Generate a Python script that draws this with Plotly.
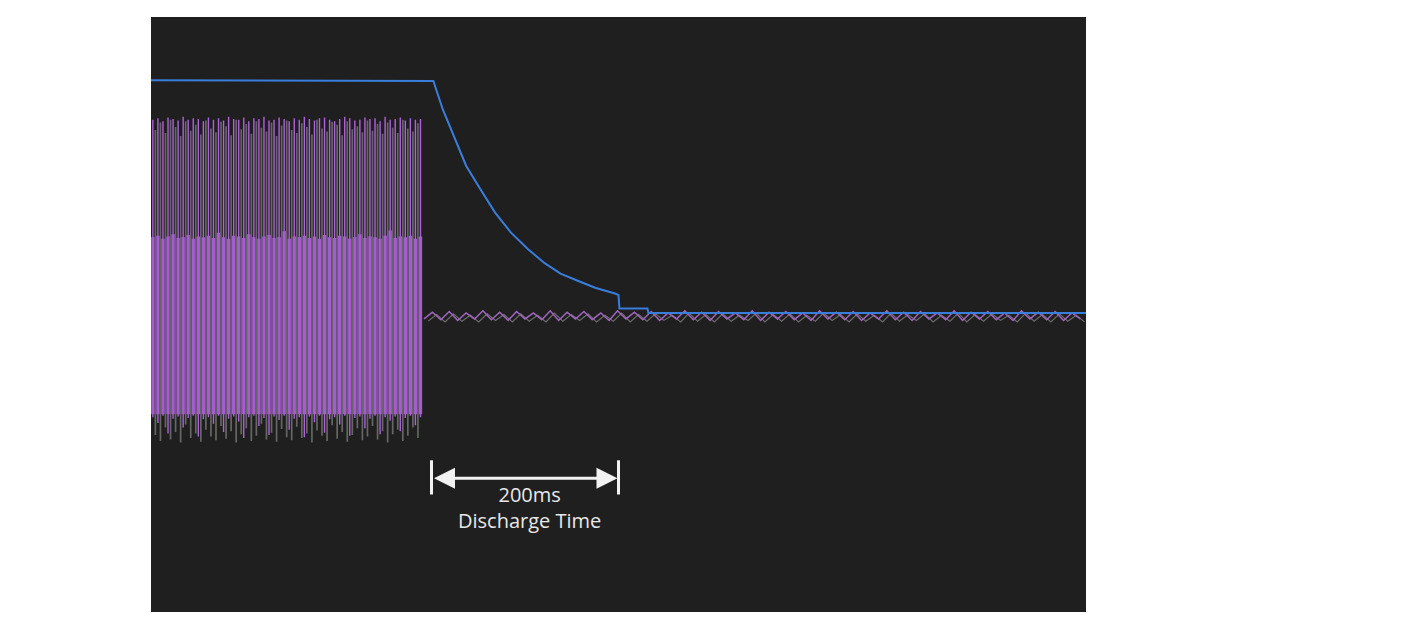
import plotly.graph_objects as go

# ---------------- data (time in ms, amplitude in screen divisions) ----------------
ac_start_ms = 2.0
ac_step_ms = 5.4          # oscilloscope column spacing of the dense AC section

ch2_hi = [2.62, 2.64, 2.60, 2.65, 2.63, 2.61, 2.66, 2.62, 2.64, 2.63, 2.60, 2.65, 2.62, 2.64,
          2.61, 2.66, 2.63, 2.62, 2.65, 2.60, 2.64, 2.63, 2.66, 2.61, 2.62, 2.65, 2.63, 2.60,
          2.64, 2.62, 2.66, 2.63, 2.61, 2.64, 2.65, 2.62, 2.60, 2.63, 2.66, 2.64, 2.61, 2.62,
          2.65, 2.63, 2.64, 2.60, 2.66, 2.62, 2.63, 2.65, 2.61, 2.64, 2.62, 2.63]
ch2_lo = [-1.38, -1.46, -1.36, -1.60, -1.40, -1.37, -1.52, -1.39, -1.36, -1.64, -1.41, -1.38,
          -1.47, -1.36, -1.58, -1.40, -1.37, -1.44, -1.66, -1.38, -1.36, -1.50, -1.39, -1.62,
          -1.37, -1.42, -1.36, -1.55, -1.40, -1.38, -1.65, -1.37, -1.45, -1.36, -1.59, -1.41,
          -1.38, -1.48, -1.36, -1.63, -1.39, -1.37, -1.53, -1.40, -1.36, -1.61, -1.38, -1.43,
          -1.37, -1.57, -1.39, -1.36, -1.49, -1.38]
ch2_band_hi = [1.04, 1.06, 1.02, 1.05, 1.08, 1.03, 1.04, 1.07, 1.02, 1.05, 1.04, 1.06, 1.03,
               1.10, 1.04, 1.02, 1.06, 1.05, 1.03, 1.08, 1.04, 1.02, 1.05, 1.07, 1.03, 1.04,
               1.12, 1.02, 1.05, 1.04, 1.06, 1.03, 1.05, 1.02, 1.07, 1.04, 1.03, 1.06, 1.05,
               1.02, 1.04, 1.08, 1.03, 1.05, 1.04, 1.02, 1.06, 1.13, 1.03, 1.05, 1.04, 1.06,
               1.02, 1.05]
ch2_band_lo = -1.34

ch1_hi = [2.48, 2.58, 2.44, 2.62, 2.52, 2.40, 2.60, 2.47, 2.55, 2.42, 2.61, 2.50, 2.45, 2.59,
          2.53, 2.41, 2.62, 2.49, 2.56, 2.43, 2.60, 2.51, 2.46, 2.58, 2.40, 2.54, 2.61, 2.48,
          2.44, 2.57, 2.52, 2.42, 2.62, 2.50, 2.46, 2.59, 2.55, 2.41, 2.60, 2.49, 2.53, 2.45,
          2.61, 2.47, 2.56, 2.43, 2.58, 2.51, 2.44, 2.62, 2.50, 2.46, 2.57]
ch1_lo = [-1.62, -1.70, -1.52, -1.68, -1.58, -1.72, -1.48, -1.66, -1.60, -1.71, -1.55, -1.64,
          -1.69, -1.50, -1.67, -1.57, -1.72, -1.61, -1.53, -1.70, -1.63, -1.47, -1.68, -1.59,
          -1.71, -1.54, -1.65, -1.69, -1.51, -1.66, -1.60, -1.72, -1.56, -1.63, -1.70, -1.49,
          -1.67, -1.58, -1.71, -1.62, -1.53, -1.69, -1.64, -1.50, -1.68, -1.57, -1.72, -1.61,
          -1.55, -1.70, -1.63, -1.52, -1.66]

ripple_start_ms = 292.0
ripple_step_ms = 9.0
ripple_ch2 = [-0.06, 0.03, -0.07, 0.04, -0.08, 0.02, -0.06, 0.05, -0.07, 0.03, -0.08, 0.04,
              -0.06, 0.02, -0.07, 0.05, -0.08, 0.03, -0.06, 0.04, -0.07, 0.02, -0.08, 0.05,
              -0.06, 0.03, -0.07, 0.04, -0.08, 0.02, -0.06, 0.05, -0.07, 0.03, -0.08, 0.04,
              -0.06, 0.02, -0.07, 0.05, -0.08, 0.03, -0.06, 0.04, -0.07, 0.02, -0.08, 0.05,
              -0.06, 0.03, -0.07, 0.04, -0.08, 0.02, -0.06, 0.05, -0.07, 0.03, -0.08, 0.04,
              -0.06, 0.02, -0.07, 0.05, -0.08, 0.03, -0.06, 0.04, -0.07, 0.02, -0.08, 0.05,
              -0.06, 0.03, -0.07, 0.04, -0.08, 0.02, -0.06]
ripple_ch1 = [-0.09, 0.00, -0.10, 0.01, -0.09, -0.01, -0.10, 0.01, -0.08, 0.00, -0.10, 0.01,
              -0.09, -0.01, -0.10, 0.02, -0.09, 0.00, -0.08, 0.01, -0.10, -0.01, -0.09, 0.02,
              -0.10, 0.00, -0.09, 0.01, -0.08, -0.01, -0.10, 0.02, -0.09, 0.00, -0.10, 0.01,
              -0.09, -0.01, -0.08, 0.02, -0.10, 0.00, -0.09, 0.01, -0.10, -0.01, -0.09, 0.02,
              -0.08, 0.00, -0.10, 0.01, -0.09, -0.01, -0.10, 0.02, -0.09, 0.00, -0.08, 0.01,
              -0.10, -0.01, -0.09, 0.02, -0.10, 0.00, -0.09, 0.01, -0.08, -0.01, -0.10, 0.02,
              -0.09, 0.00, -0.10, 0.01, -0.09, -0.01, -0.10]

bus_t = [0, 300, 302, 312, 325, 337, 350, 368, 385, 403, 421, 438, 457, 475, 497, 500,
         501, 531, 532, 1000]
bus_v = [3.15, 3.15, 3.14, 2.76, 2.36, 2.00, 1.73, 1.37, 1.10, 0.88, 0.69, 0.55, 0.45, 0.36,
         0.28, 0.26, 0.08, 0.08, 0.02, 0.02]

discharge_start_ms = 300
discharge_end_ms = 500
label_lines = ["200ms", "Discharge Time"]

# ---------------- helpers ----------------
def strokes(t0, step, lows, highs):
    xs, ys = [], []
    for i, (lo, hi) in enumerate(zip(lows, highs)):
        t = t0 + i * step
        xs += [t, t, None]
        ys += [lo, hi, None]
    return xs, ys

def ripple(t0, step, vals):
    return [t0 + i * step for i in range(len(vals))], vals

fig = go.Figure()

gx, gy = strokes(ac_start_ms + ac_step_ms / 2, ac_step_ms, ch1_lo, ch1_hi)
fig.add_trace(go.Scatter(x=gx, y=gy, mode="lines", line=dict(color="#656762", width=1.7),
                         hoverinfo="skip", showlegend=False))

px_, py_ = strokes(ac_start_ms, ac_step_ms, ch2_lo, ch2_hi)
fig.add_trace(go.Scatter(x=px_, y=py_, mode="lines", line=dict(color="#b061dc", width=1.4),
                         hoverinfo="skip", showlegend=False))

bx, by = strokes(ac_start_ms, ac_step_ms, [ch2_band_lo] * len(ch2_band_hi), ch2_band_hi)
fig.add_trace(go.Scatter(x=bx, y=by, mode="lines", line=dict(color="#a45ccf", width=3.4),
                         hoverinfo="skip", showlegend=False))

rx1, ry1 = ripple(ripple_start_ms + ripple_step_ms / 2, ripple_step_ms, ripple_ch1)
fig.add_trace(go.Scatter(x=rx1, y=ry1, mode="lines", line=dict(color="#6d6d6d", width=1.1),
                         hoverinfo="skip", showlegend=False))

rx2, ry2 = ripple(ripple_start_ms, ripple_step_ms, ripple_ch2)
fig.add_trace(go.Scatter(x=rx2, y=ry2, mode="lines", line=dict(color="#a066c0", width=1.5),
                         hoverinfo="skip", showlegend=False))

fig.add_trace(go.Scatter(x=bus_t, y=bus_v, mode="lines", line=dict(color="#3a7edc", width=2),
                         hoverinfo="skip", showlegend=False))

# ---------------- discharge-time marker ----------------
arrow_y = -2.2
for t in (discharge_start_ms, discharge_end_ms):
    fig.add_shape(type="line", x0=t, x1=t, y0=-1.96, y1=-2.42, xref="x", yref="y",
                  line=dict(color="#f2f2f2", width=3))
fig.add_annotation(x=discharge_end_ms, y=arrow_y, ax=discharge_start_ms, ay=arrow_y,
                   xref="x", yref="y", axref="x", ayref="y", text="", showarrow=True,
                   arrowside="end+start", arrowhead=2, arrowsize=1.4, arrowwidth=3,
                   arrowcolor="#f2f2f2", standoff=1, startstandoff=1)
mid = (discharge_start_ms + discharge_end_ms) / 2
fig.add_annotation(x=mid + 5, y=-2.59, text="<br>".join(label_lines), showarrow=False,
                   align="center",
                   font=dict(family="Open Sans", size=20, color="#e8e8e8"))

fig.update_layout(
    width=1404, height=621,
    margin=dict(l=143, r=326, t=9, b=17),
    paper_bgcolor="white", plot_bgcolor="#1f1f1f",
    xaxis=dict(range=[0, 1000], visible=False, showgrid=False, zeroline=False),
    yaxis=dict(range=[-4, 4], visible=False, showgrid=False, zeroline=False),
    showlegend=False,
)

fig.write_html("out.html")
